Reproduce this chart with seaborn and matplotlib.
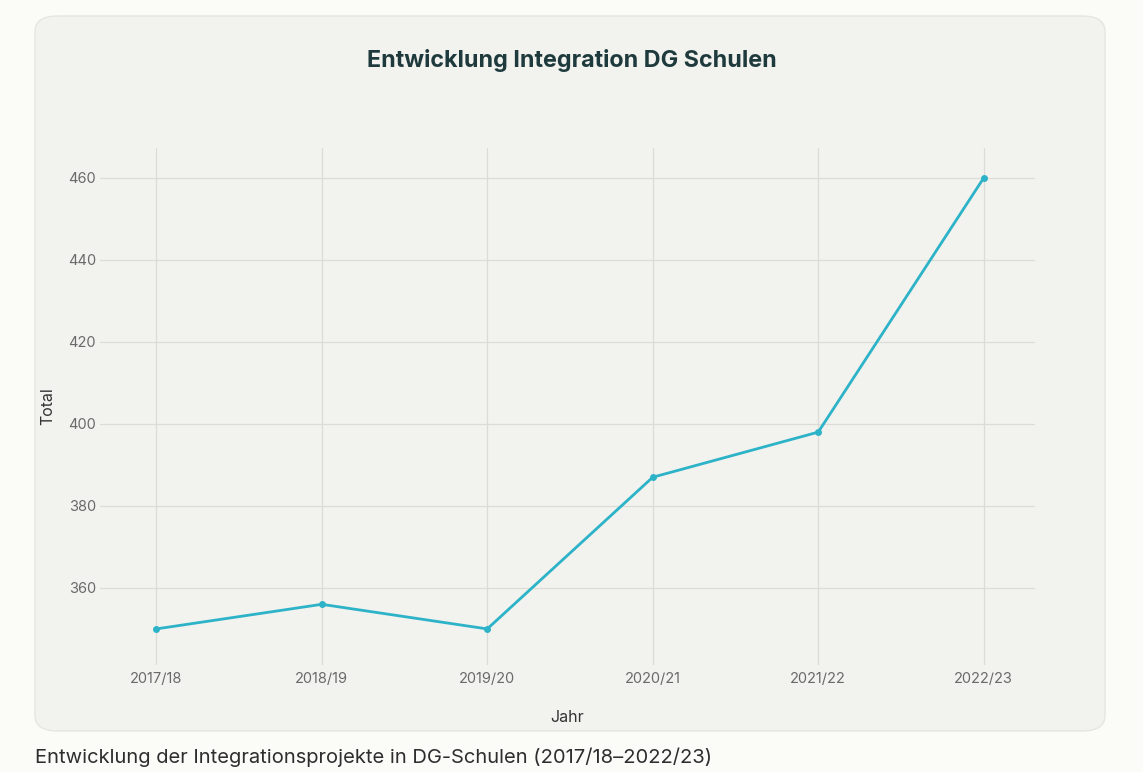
import pandas as pd
import matplotlib.pyplot as plt
import seaborn as sns
from matplotlib.patches import FancyBboxPatch

years = ['2017/18', '2018/19', '2019/20', '2020/21', '2021/22', '2022/23']
totals = [350, 356, 350, 387, 398, 460]
y_ticks = [360, 380, 400, 420, 440, 460]

df = pd.DataFrame({'Jahr': years, 'Total': totals})

sns.set_style('white')
plt.rcParams['font.family'] = ['Inter', 'DejaVu Sans']

fig = plt.figure(figsize=(11.43, 7.72), dpi=100)
fig.patch.set_facecolor('#fbfbf8')

# rounded panel behind the chart
panel = FancyBboxPatch((35 / 1143, 1 - 731 / 772), 1070 / 1143, 715 / 772,
                       boxstyle='round,pad=0,rounding_size=0.02',
                       transform=fig.transFigure, facecolor='#f2f2ee',
                       edgecolor='#e6e6e1', linewidth=1, zorder=-10)
fig.patches.append(panel)

ax = fig.add_axes([100 / 1143, 1 - 665 / 772, 935 / 1143, 517 / 772])
ax.set_facecolor('none')

sns.lineplot(data=df, x='Jahr', y='Total', ax=ax, color='#2db3c8',
             linewidth=2, marker='o', markersize=5, markeredgewidth=0, sort=False)

ax.set_xlim(-0.34, 5.31)
ax.set_ylim(341.2, 467.3)
ax.set_yticks(y_ticks)
ax.grid(True, color='#dcdcd7', linewidth=0.9)
for s in ax.spines.values():
    s.set_visible(False)
ax.tick_params(axis='both', length=0, labelsize=10.5, labelcolor='#6a6a6a')
ax.tick_params(axis='y', pad=3)
ax.tick_params(axis='x', pad=5)

ax.set_xlabel('Jahr', fontsize=11.5, color='#333333', labelpad=17)
ax.set_ylabel('Total', fontsize=11.5, color='#333333', labelpad=9)

fig.text(0.5, 1 - 60 / 772, 'Entwicklung Integration DG Schulen', ha='center', va='center',
         fontsize=16.8, fontweight='bold', color='#1e3a3d')
fig.text(35 / 1143, 1 - 757 / 772, 'Entwicklung der Integrationsprojekte in DG-Schulen (2017/18–2022/23)',
         ha='left', va='center', fontsize=14.5, color='#2e2e2e')

fig.savefig('out.png', dpi=100, facecolor=fig.get_facecolor())
